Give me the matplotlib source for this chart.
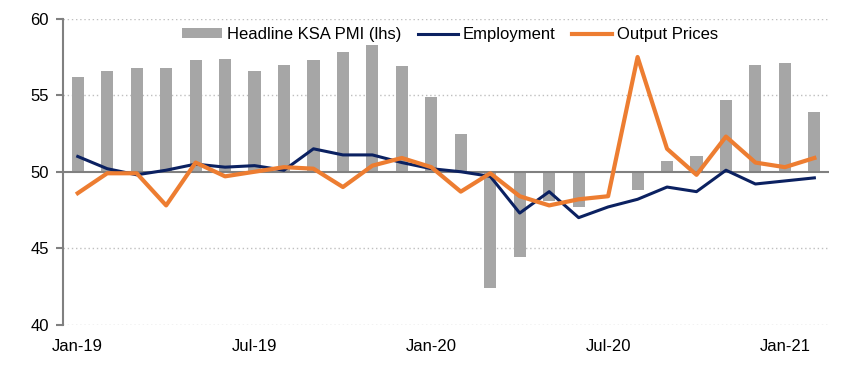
import numpy as np
import matplotlib
matplotlib.use("Agg")
import matplotlib.pyplot as plt

plt.rcParams['font.family'] = ['Liberation Sans', 'DejaVu Sans']

months = ["Jan-19", "Feb-19", "Mar-19", "Apr-19", "May-19", "Jun-19", "Jul-19", "Aug-19",
          "Sep-19", "Oct-19", "Nov-19", "Dec-19", "Jan-20", "Feb-20", "Mar-20", "Apr-20",
          "May-20", "Jun-20", "Jul-20", "Aug-20", "Sep-20", "Oct-20", "Nov-20", "Dec-20",
          "Jan-21", "Feb-21"]
pmi = [56.2, 56.6, 56.8, 56.8, 57.3, 57.4, 56.6, 57.0, 57.3, 57.8, 58.3, 56.9, 54.9,
       52.5, 42.4, 44.4, 48.1, 47.7, 50.0, 48.8, 50.7, 51.0, 54.7, 57.0, 57.1, 53.9]
employment = [51.0, 50.2, 49.8, 50.1, 50.5, 50.3, 50.4, 50.1, 51.5, 51.1, 51.1, 50.6, 50.2,
              50.0, 49.7, 47.3, 48.7, 47.0, 47.7, 48.2, 49.0, 48.7, 50.1, 49.2, 49.4, 49.6]
output_prices = [48.6, 49.9, 49.9, 47.8, 50.6, 49.7, 50.0, 50.3, 50.2, 49.0, 50.4, 50.9, 50.3,
                 48.7, 49.9, 48.4, 47.8, 48.2, 48.4, 57.5, 51.5, 49.8, 52.3, 50.6, 50.3, 50.9]
tick_labels = ["Jan-19", "Jul-19", "Jan-20", "Jul-20", "Jan-21"]

x = np.arange(len(months))
pmi = np.array(pmi)

fig = plt.figure(figsize=(8.55, 3.75), dpi=100)
ax = fig.add_axes([0.0737, 0.134, 0.896, 0.816])

for yv in [40, 45, 55, 60]:
    ax.axhline(yv, color="#BFBFBF", lw=1, ls=(0, (1, 2)), zorder=0)

bars = ax.bar(x, pmi - 50, bottom=50, width=0.41, color="#A6A6A6",
              label="Headline KSA PMI (lhs)", zorder=2)
ax.axhline(50, color="#808080", lw=1.5, zorder=3)
l1, = ax.plot(x, employment, color="#0B2161", lw=2.2, label="Employment", zorder=4)
l2, = ax.plot(x, output_prices, color="#ED7D31", lw=3, label="Output Prices", zorder=5)

ax.set_xlim(-0.5, 25.5)
ax.set_ylim(40, 60)
ax.set_yticks([40, 45, 50, 55, 60])
ax.set_xticks([months.index(m) for m in tick_labels])
ax.set_xticklabels(tick_labels)
ax.tick_params(axis='x', length=0, pad=10, labelsize=12, colors="#000000")
ax.tick_params(axis='y', length=5, width=1.5, color="#808080", labelsize=12, pad=5)

for s in ["top", "right", "bottom"]:
    ax.spines[s].set_visible(False)
ax.spines["left"].set_color("#808080")
ax.spines["left"].set_linewidth(1.5)

ax.legend([bars, l1, l2], ["Headline KSA PMI (lhs)", "Employment", "Output Prices"],
          loc="upper center", bbox_to_anchor=(0.505, 1.0), ncol=3, frameon=False,
          fontsize=12, handlelength=2.4, handleheight=0.5, handletextpad=0.3,
          columnspacing=1.0, borderaxespad=0.1)

fig.savefig("out.png", dpi=100)
